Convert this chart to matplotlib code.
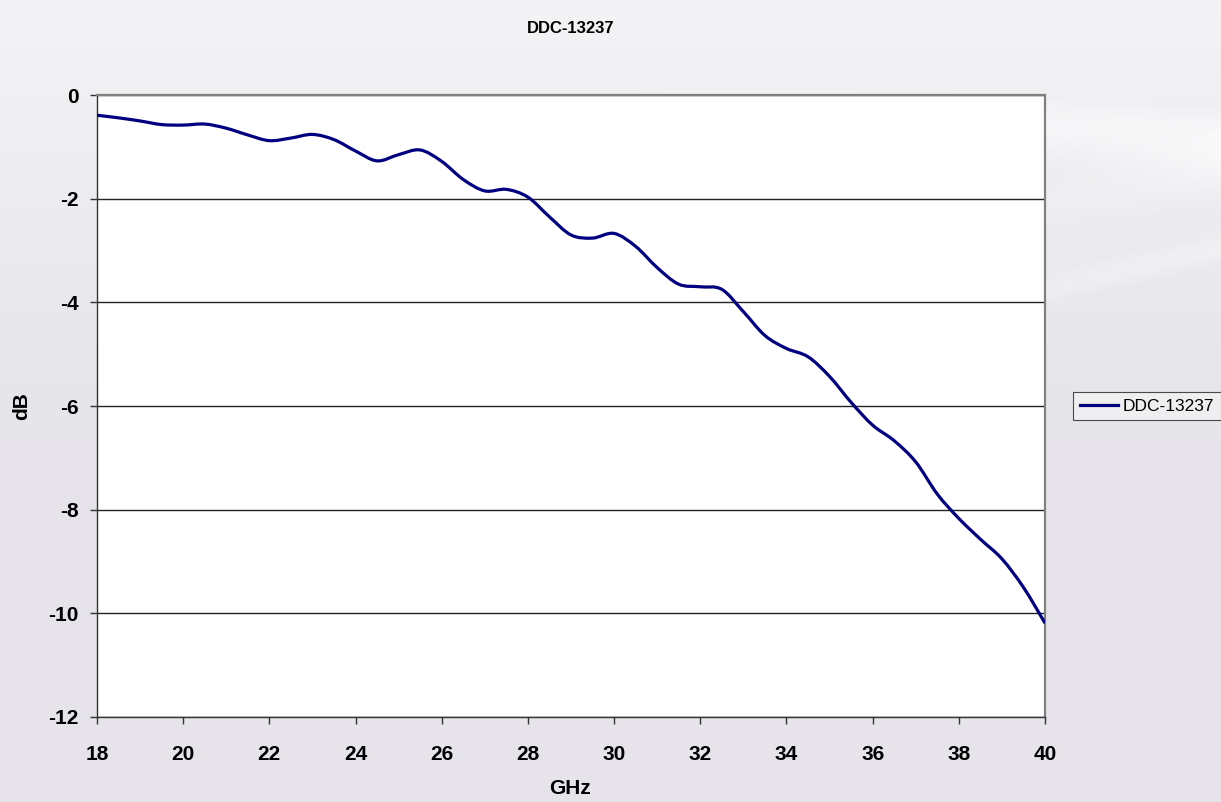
"""
DDC-13237 insertion loss vs frequency, Excel-style chart
"""
import numpy as np
import matplotlib
matplotlib.use('Agg')
import matplotlib.pyplot as plt
from matplotlib.path import Path
from matplotlib.patches import PathPatch

# Values
freq_ghz = [18.0, 18.5, 19.0, 19.5, 20.0, 20.5, 21.0, 21.5, 22.0, 22.5,
            23.0, 23.5, 24.0, 24.5, 25.0, 25.5, 26.0, 26.5, 27.0, 27.5,
            28.0, 28.5, 29.0, 29.5, 30.0, 30.5, 31.0, 31.5, 32.0, 32.5,
            33.0, 33.5, 34.0, 34.5, 35.0, 35.5, 36.0, 36.5, 37.0, 37.5,
            38.0, 38.5, 39.0, 39.5, 40.0]
loss_db = [-0.39, -0.44, -0.50, -0.57, -0.58, -0.56, -0.64, -0.77, -0.88, -0.83,
           -0.76, -0.86, -1.08, -1.27, -1.15, -1.06, -1.28, -1.63, -1.85, -1.82,
           -1.97, -2.35, -2.70, -2.76, -2.67, -2.92, -3.33, -3.65, -3.70, -3.75,
           -4.18, -4.64, -4.89, -5.05, -5.43, -5.93, -6.37, -6.67, -7.08, -7.70,
           -8.17, -8.57, -8.95, -9.50, -10.19]
series_name = 'DDC-13237'
x_ticks = list(range(18, 41, 2))
y_ticks = list(range(-12, 1, 2))

plt.rcParams['font.family'] = ['Liberation Sans', 'DejaVu Sans']
plt.rcParams['font.weight'] = 'bold'
plt.rcParams['axes.unicode_minus'] = False


def smooth_path(xs, ys, tension=1 / 6):
    """Excel-like smoothed line: Catmull-Rom segments as cubic Beziers"""
    pts = np.column_stack([xs, ys])
    verts = [pts[0]]
    codes = [Path.MOVETO]
    n = len(pts)
    for i in range(n - 1):
        p0 = pts[max(i - 1, 0)]
        p1, p2 = pts[i], pts[i + 1]
        p3 = pts[min(i + 2, n - 1)]
        verts += [p1 + (p2 - p0) * tension, p2 - (p3 - p1) * tension, p2]
        codes += [Path.CURVE4] * 3
    return Path(verts, codes)


fig = plt.figure(figsize=(12.21, 8.02), dpi=100)
fig.patch.set_facecolor('#e6e5ea')

# Light gray backdrop with soft white swooshes (slide background)
bg = fig.add_axes([0, 0, 1, 1], zorder=-10)
gx, gy = np.meshgrid(np.linspace(0, 1, 400), np.linspace(0, 1, 260))
swoosh = np.zeros_like(gx)
for c, w, amp in [(0.93 - 0.10 * gx, 0.05, 0.9),
                  (0.55 + 0.35 * (gx - 0.6), 0.025, 0.9),
                  (0.70 + 0.25 * (gx - 0.7), 0.05, 0.6)]:
    swoosh += amp * np.exp(-((gy - c) / w) ** 2) * np.clip(gx * 1.2, 0.3, 1)
top_fade = np.clip((gy - 0.45) / 0.55, 0, 1)
light = np.clip(np.maximum(swoosh * top_fade, 0.55 * top_fade ** 1.3), 0, 1)
rgb = np.zeros(gx.shape + (3,))
gray = np.array([0.902, 0.898, 0.918])
for i in range(3):
    rgb[..., i] = gray[i] + (1.0 - gray[i]) * light
bg.imshow(rgb, extent=[0, 1, 0, 1], origin='lower', aspect='auto')
bg.axis('off')

ax = fig.add_axes([0.0794, 0.106, 0.7765, 0.7755])
ax.set_facecolor('white')
ax.add_patch(PathPatch(smooth_path(freq_ghz, loss_db), facecolor='none',
                       edgecolor='#000080', linewidth=2.3, zorder=3,
                       transform=ax.transData))
# proxy handle for the legend
ax.plot([], [], color='#000080', linewidth=2.3, label=series_name)

ax.set_xlim(18, 40)
ax.set_ylim(-12, 0)
ax.set_xticks(x_ticks)
ax.set_yticks(y_ticks)
ax.yaxis.grid(True, color='#222222', linewidth=1.0)
ax.set_axisbelow(True)

for side in ['top', 'right']:
    ax.spines[side].set_color('#808080')
    ax.spines[side].set_linewidth(1.6)
for side in ['left', 'bottom']:
    ax.spines[side].set_color('#333333')
    ax.spines[side].set_linewidth(1.0)

ax.tick_params(axis='x', direction='out', length=5, width=1, color='#333333',
               pad=15, labelsize=15)
ax.tick_params(axis='y', direction='out', length=5, width=1, color='#333333',
               pad=8, labelsize=15)

fig.text(0.467, 0.965, 'DDC-13237', ha='center', va='center',
         fontsize=12, fontweight='bold')
fig.text(0.467, 0.017, 'GHz', ha='center', va='center',
         fontsize=15, fontweight='bold')
fig.text(0.018, 0.494, 'dB', ha='center', va='center', rotation=90,
         fontsize=15, fontweight='bold')

leg = ax.legend(loc='center left', bbox_to_anchor=(1.03, 0.5),
                prop={'size': 12.5, 'weight': 'normal'},
                frameon=True, fancybox=False, handlelength=2.2,
                handletextpad=0.3, borderpad=0.35, borderaxespad=0)
leg.get_frame().set_edgecolor('#222222')
leg.get_frame().set_linewidth(0.8)
leg.get_frame().set_facecolor('#f2f2f4')

fig.savefig('out.png', dpi=100, facecolor=fig.get_facecolor())
